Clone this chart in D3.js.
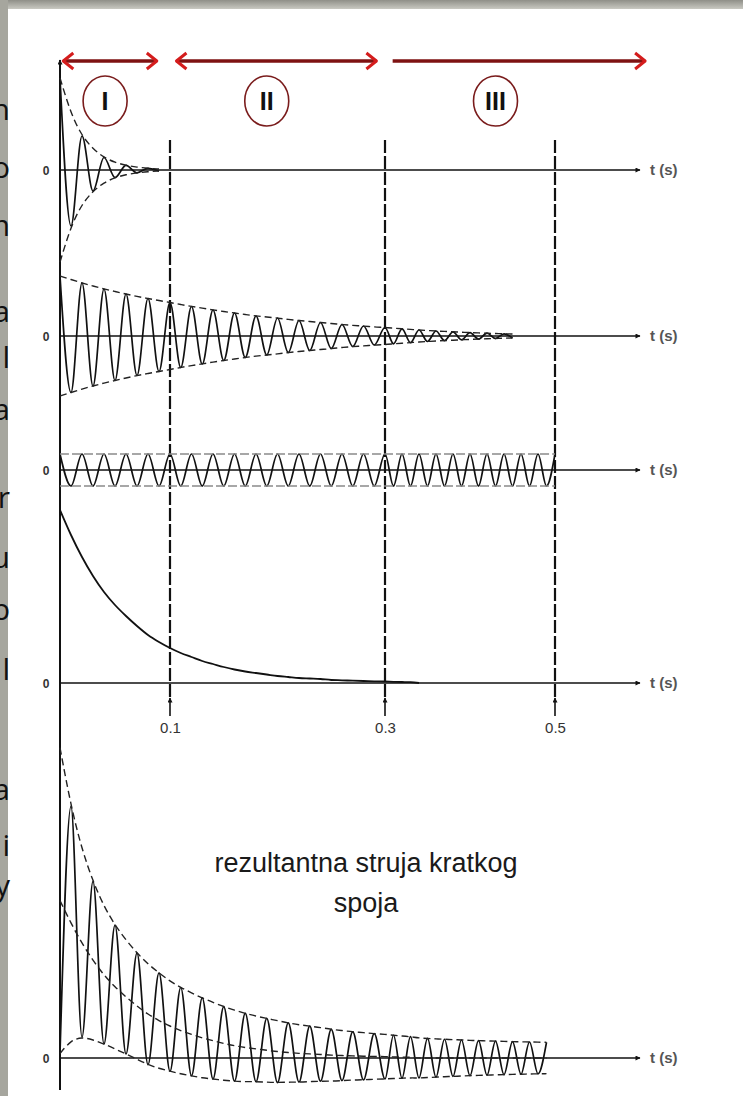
<!DOCTYPE html>
<html>
<head>
<meta charset="utf-8">
<script src="https://cdn.jsdelivr.net/npm/d3@7"></script>
<style>
  html, body { margin: 0; padding: 0; background: #fff; }
  svg { display: block; }
</style>
</head>
<body>
<div id="chart"></div>
<script>
// half period of the 50 Hz wave (s); wave extrema sit every halfCycle
const halfCycle = 0.01;

// subtransient AC component, peak of each half cycle (panel 1)
const subPeaks = [0.92, 0.56, 0.34, 0.21, 0.125, 0.075, 0.046, 0.028, 0.017, 0.01];

// transient AC component, peak of each half cycle (panel 2)
const transPeaks = [
  0.60, 0.565, 0.53, 0.50, 0.47, 0.445, 0.42, 0.395, 0.375, 0.355,
  0.335, 0.315, 0.295, 0.28, 0.26, 0.245, 0.23, 0.215, 0.20, 0.19,
  0.18, 0.165, 0.155, 0.145, 0.135, 0.125, 0.115, 0.105, 0.10, 0.09,
  0.085, 0.078, 0.072, 0.066, 0.06, 0.055, 0.05, 0.046, 0.042, 0.038,
  0.034, 0.031, 0.028, 0.025, 0.022, 0.02, 0.018, 0.016, 0.014, 0.012
];

// steady state AC component (panel 3)
const steadyPeaks = [
  0.16, 0.16, 0.16, 0.16, 0.16, 0.16, 0.16, 0.16, 0.16, 0.16,
  0.16, 0.16, 0.16, 0.16, 0.16, 0.16, 0.16, 0.16, 0.16, 0.16,
  0.16, 0.16, 0.16, 0.16, 0.16, 0.16, 0.16, 0.16, 0.16, 0.16,
  0.16, 0.16, 0.16, 0.16, 0.16, 0.16, 0.16, 0.16, 0.16, 0.16,
  0.16, 0.16, 0.16, 0.16, 0.16, 0.16, 0.16, 0.16, 0.16, 0.16, 0.16
];

// DC (aperiodic) component, one value per half cycle (panel 4)
const dcValues = [
  1.73, 1.48, 1.26, 1.07, 0.91, 0.78, 0.67, 0.57, 0.48, 0.41,
  0.35, 0.30, 0.26, 0.22, 0.19, 0.16, 0.135, 0.115, 0.10, 0.085,
  0.07, 0.06, 0.05, 0.045, 0.04, 0.03, 0.027, 0.023, 0.02, 0.017,
  0.015, 0.012, 0.01, 0.008, 0.0
];

const tickTimes = [0.1, 0.3, 0.5];
const tickLabels = ["0.1", "0.3", "0.5"];
const phaseLabels = ["I", "II", "III"];
const phaseSpans = [[0.003, 0.088], [0.106, 0.292], [0.309, 0.606]];
const phaseCentres = [0.041, 0.19, 0.43];
const resultTitle = ["rezultantna struja kratkog", "spoja"];
const sideLetters = ["n", "o", "m", "a", "l", "ja", "r", "u", "p", "l", "a", "i", "y"];

const width = 743, height = 1096;

const svg = d3.select("#chart").append("svg")
  .attr("width", width).attr("height", height);

// scanned frame
const defs = svg.append("defs");
const grad = defs.append("linearGradient").attr("id", "topband")
  .attr("x1", 0).attr("y1", 0).attr("x2", 0).attr("y2", 1);
grad.append("stop").attr("offset", "0%").attr("stop-color", "#8f8f88");
grad.append("stop").attr("offset", "100%").attr("stop-color", "#c9c9c2");
svg.append("rect").attr("x", 0).attr("y", 0).attr("width", width).attr("height", 9).attr("fill", "url(#topband)");
svg.append("rect").attr("x", 0).attr("y", 0).attr("width", 8).attr("height", height).attr("fill", "#a6a69e");

// clipped text from the neighbouring page column
const sideY = [120, 178, 236, 322, 368, 420, 508, 568, 620, 680, 800, 856, 896];
svg.append("g").selectAll("text").data(sideLetters).join("text")
  .attr("x", 10).attr("y", (d, i) => sideY[i])
  .attr("text-anchor", "end")
  .attr("font-family", "Open Sans, Liberation Sans, sans-serif")
  .attr("font-size", 30)
  .attr("fill", "#111")
  .text(d => d);

// time axis: hand drawn, so piecewise linear
const x = d3.scaleLinear()
  .domain([0, 0.1, 0.3, 0.5, 0.6])
  .range([60, 170, 385, 555, 640]);

const panels = [
  { zero: 170, k: 100 },
  { zero: 336, k: 100 },
  { zero: 470, k: 100 },
  { zero: 683, k: 100 },
  { zero: 1058, k: 91 }
];
const yScales = panels.map(p => d3.scaleLinear().domain([0, 1]).range([p.zero, p.zero - p.k]));

// markers
defs.append("marker").attr("id", "ax").attr("viewBox", "0 0 10 10")
  .attr("refX", 9).attr("refY", 5).attr("markerWidth", 7).attr("markerHeight", 5)
  .attr("orient", "auto").attr("markerUnits", "userSpaceOnUse")
  .append("path").attr("d", "M0,0L10,5L0,10z").attr("fill", "#111");

// vertical dashed phase boundaries
svg.append("g").selectAll("line").data(tickTimes).join("line")
  .attr("x1", d => x(d)).attr("x2", d => x(d))
  .attr("y1", 140).attr("y2", 698)
  .attr("stroke", "#111").attr("stroke-width", 2.2)
  .attr("stroke-dasharray", "13,3");

// small upward arrows under the fourth axis
svg.append("g").selectAll("line").data(tickTimes).join("line")
  .attr("x1", d => x(d)).attr("x2", d => x(d))
  .attr("y1", 716).attr("y2", 698)
  .attr("stroke", "#111").attr("stroke-width", 1.6)
  .attr("marker-end", "url(#ax)");

// tick labels through a d3 axis
const tickAxis = d3.axisBottom(x)
  .tickValues(tickTimes)
  .tickFormat((d, i) => tickLabels[i])
  .tickSize(0);
const tg = svg.append("g").attr("transform", "translate(0,719)").call(tickAxis);
tg.select(".domain").remove();
tg.selectAll("text")
  .attr("font-family", "Liberation Sans Narrow, Liberation Sans, sans-serif")
  .attr("font-size", 15).attr("fill", "#333");

// horizontal axes, zeros and "t (s)"
panels.forEach(p => {
  svg.append("line")
    .attr("x1", 60).attr("x2", 640)
    .attr("y1", p.zero).attr("y2", p.zero)
    .attr("stroke", "#111").attr("stroke-width", 1.6)
    .attr("marker-end", "url(#ax)");
  svg.append("text")
    .attr("x", 46).attr("y", p.zero + 5)
    .attr("text-anchor", "middle")
    .attr("font-family", "Liberation Sans, sans-serif")
    .attr("font-size", 12).attr("font-weight", "bold").attr("fill", "#333")
    .text("0");
  svg.append("text")
    .attr("x", 650).attr("y", p.zero + 5)
    .attr("font-family", "Liberation Sans Narrow, Liberation Sans, sans-serif")
    .attr("font-size", 15).attr("font-weight", "bold").attr("fill", "#555")
    .text("t (s)");
});

// vertical axis
svg.append("line")
  .attr("x1", 60).attr("x2", 60).attr("y1", 1090).attr("y2", 60)
  .attr("stroke", "#111").attr("stroke-width", 2)
  .attr("marker-end", "url(#ax)");

// phase arrows and circled numerals
const arrows = svg.append("g");
phaseSpans.forEach((s, i) => {
  const x0 = x(s[0]), x1 = x(s[1]), yy = 61;
  arrows.append("line").attr("x1", x0).attr("x2", x1).attr("y1", yy).attr("y2", yy)
    .attr("stroke", "#7e1212").attr("stroke-width", 3.5);
  arrows.append("path").attr("d", `M${x1 - 10},${yy - 8}L${x1},${yy}L${x1 - 10},${yy + 8}`)
    .attr("fill", "none").attr("stroke", "#d41c1c").attr("stroke-width", 3).attr("stroke-linejoin", "round");
  if (i < 2) {
    arrows.append("path").attr("d", `M${x0 + 10},${yy - 8}L${x0},${yy}L${x0 + 10},${yy + 8}`)
      .attr("fill", "none").attr("stroke", "#d41c1c").attr("stroke-width", 3).attr("stroke-linejoin", "round");
  }
});
svg.append("g").selectAll("ellipse").data(phaseCentres).join("ellipse")
  .attr("cx", d => x(d)).attr("cy", 101).attr("rx", 22).attr("ry", 25)
  .attr("fill", "none").attr("stroke", "#7a1c1c").attr("stroke-width", 1.6);
svg.append("g").selectAll("text").data(phaseLabels).join("text")
  .attr("x", (d, i) => x(phaseCentres[i])).attr("y", 110)
  .attr("text-anchor", "middle")
  .attr("font-family", "Liberation Sans Narrow, Liberation Sans, sans-serif")
  .attr("font-weight", "bold").attr("font-size", 25).attr("fill", "#111")
  .text(d => d);

// helpers
const waveLine = y => d3.line().x(d => x(d.t)).y(d => y(d.v)).curve(d3.curveMonotoneX);
const envLine = y => d3.line().x(d => x(d.t)).y(d => y(d.v)).curve(d3.curveBasis);

function drawWave(y, pts) {
  svg.append("path").datum(pts).attr("d", waveLine(y))
    .attr("fill", "none").attr("stroke", "#111").attr("stroke-width", 1.7);
}
function drawEnv(y, pts, color, dash) {
  svg.append("path").datum(pts).attr("d", envLine(y))
    .attr("fill", "none").attr("stroke", color).attr("stroke-width", 1.4)
    .attr("stroke-dasharray", dash);
}
function acPanel(peaks, y, color, dash) {
  const wave = peaks.map((a, k) => ({ t: k * halfCycle, v: k % 2 === 0 ? a : -a }));
  drawWave(y, wave);
  drawEnv(y, peaks.map((a, k) => ({ t: k * halfCycle, v: a })), color, dash);
  drawEnv(y, peaks.map((a, k) => ({ t: k * halfCycle, v: -a })), color, dash);
}

// panels 1-3: AC components (panel 2 drawn until it fades out at 0.45 s)
acPanel(subPeaks, yScales[0], "#222", "7,4");
acPanel(transPeaks.slice(0, 46), yScales[1], "#222", "7,4");
acPanel(steadyPeaks, yScales[2], "#8a8a8a", "9,3");

// panel 4: DC component
svg.append("path")
  .datum(dcValues.map((v, k) => ({ t: k * halfCycle, v })))
  .attr("d", d3.line().x(d => x(d.t)).y(d => yScales[3](d.v)).curve(d3.curveMonotoneX))
  .attr("fill", "none").attr("stroke", "#111").attr("stroke-width", 1.8);

// panel 5: resultant = DC + sum of AC components
const nRes = 50;
const res = d3.range(nRes).map(k => {
  const ac = (subPeaks[k] || 0) + (transPeaks[k] || 0) + (steadyPeaks[k] || 0);
  const dc = dcValues[k] || 0;
  return { t: k * halfCycle, dc, ac };
});
const y5 = yScales[4];
drawWave(y5, res.map((d, k) => ({ t: d.t, v: k % 2 === 0 ? d.dc - d.ac : d.dc + d.ac })));
drawEnv(y5, res.map(d => ({ t: d.t, v: d.dc + d.ac })), "#222", "7,4");
drawEnv(y5, res.map(d => ({ t: d.t, v: d.dc - d.ac })), "#222", "7,4");
drawEnv(y5, res.map(d => ({ t: d.t, v: d.dc })), "#222", "7,4");

// caption inside the last panel
svg.append("g").selectAll("text").data(resultTitle).join("text")
  .attr("x", 366).attr("y", (d, i) => 872 + i * 40)
  .attr("text-anchor", "middle")
  .attr("font-family", "Liberation Sans, Arial, sans-serif")
  .attr("font-size", 27).attr("fill", "#1a1a1a")
  .text(d => d);
</script>
</body>
</html>
